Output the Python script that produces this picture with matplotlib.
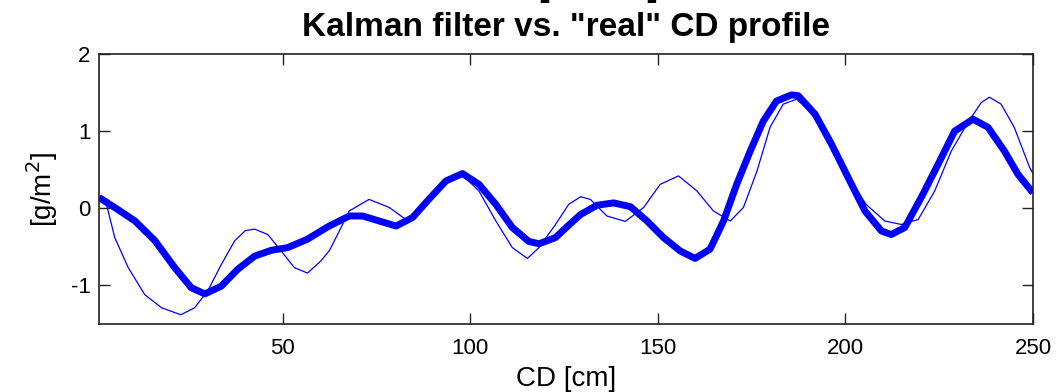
import matplotlib
matplotlib.use("Agg")
import matplotlib.pyplot as plt

from matplotlib import rcParams
rcParams['font.family'] = 'sans-serif'
rcParams['font.sans-serif'] = ['Liberation Sans', 'DejaVu Sans']
rcParams['axes.unicode_minus'] = False

# Kalman filter estimate (thick line)
kal_x = [1, 5.2, 10.6, 15.9, 21.2, 25.6, 29.2, 33.6, 38.0, 42.5, 46.9, 51.3, 56.6, 62,
         67.7, 71.3, 75.7, 80.2, 84.6, 89, 93.5, 97.9, 102.3, 106.8, 111.2, 115.6, 118.3,
         122.7, 126.2, 129.4, 133.8, 138.2, 142.7, 147.1, 151.5, 156, 159.9, 163.9, 167.5,
         171, 174.6, 178.1, 181.6, 185.6, 187.4, 191.9, 196.3, 200.7, 205.2, 209.6, 212.2,
         215.8, 220.2, 224.7, 229.1, 234, 238, 242.4, 246, 250]
kal_y = [0.14, 0.01, -0.165, -0.42, -0.77, -1.03, -1.11, -1.01, -0.79, -0.62, -0.545, -0.51,
         -0.40, -0.24, -0.10, -0.10, -0.165, -0.23, -0.12, 0.12, 0.355, 0.45, 0.31, 0.05,
         -0.25, -0.43, -0.46, -0.38, -0.22, -0.08, 0.04, 0.07, 0.02, -0.165, -0.38, -0.555,
         -0.65, -0.53, -0.165, 0.31, 0.74, 1.13, 1.39, 1.47, 1.46, 1.22, 0.83, 0.40, -0.035,
         -0.295, -0.34, -0.25, 0.14, 0.57, 1.0, 1.155, 1.05, 0.74, 0.44, 0.20]

# "real" CD profile (thin line)
real_x = [1, 3.0, 5.2, 8.8, 13.2, 17.7, 22.8, 26.5, 30, 33.6, 37.2, 40, 42.5, 46, 49.6,
          53.1, 56.6, 60.2, 62.4, 64.5, 67.7, 73, 78.4, 82.8, 87.2, 92, 97.5, 102.3, 106.8,
          111.2, 115.2, 118.3, 122.7, 126.2, 129.4, 132, 136.4, 141.3, 146.2, 150.6, 155.5,
          160.4, 164.8, 169.3, 172.8, 176.4, 179.9, 183.4, 187, 191.9, 196.3, 200.7, 205.5,
          210.5, 214.9, 219.4, 223.8, 228.2, 232.6, 236.2, 238.4, 241.5, 245, 249.1, 250]
real_y = [0.15, 0.05, -0.38, -0.77, -1.12, -1.29, -1.38, -1.29, -1.07, -0.73, -0.42, -0.29,
          -0.27, -0.34, -0.555, -0.77, -0.84, -0.68, -0.55, -0.35, -0.035, 0.115, 0.01,
          -0.145, 0.01, 0.3, 0.45, 0.225, -0.165, -0.51, -0.65, -0.51, -0.21, 0.05, 0.15,
          0.115, -0.10, -0.17, 0.01, 0.31, 0.42, 0.225, -0.035, -0.165, 0.01, 0.48, 1.05,
          1.35, 1.415, 1.2, 0.82, 0.42, 0.05, -0.165, -0.21, -0.145, 0.225, 0.74, 1.11,
          1.37, 1.44, 1.35, 1.05, 0.53, 0.45]

x_ticks = [50, 100, 150, 200, 250]
y_ticks = [-1, 0, 1, 2]

fig = plt.figure(figsize=(10.61, 3.92), dpi=100)
ax = fig.add_axes([0.0933, 0.1735, 0.8803, 0.6887])

ax.plot(real_x, real_y, color='#0000ff', linewidth=0.9)
ax.plot(kal_x, kal_y, color='#0000ff', linewidth=5, solid_capstyle='butt')

ax.set_xlim(1, 250)
ax.set_ylim(-1.5, 2)
ax.set_xticks(x_ticks)
ax.set_yticks(y_ticks)
ax.tick_params(direction='in', length=8, width=1, top=True, right=True,
               labelsize=16, pad=6, colors='#222222', labelcolor='black')
ax.tick_params(axis='x', pad=10)
for s in ax.spines.values():
    s.set_linewidth(1.2)
    s.set_color('#222222')

ax.set_xlabel('CD [cm]', fontsize=20, labelpad=5)
ax.set_ylabel('[g/m$^2$]', fontsize=20, labelpad=8)
ax.set_title('Kalman filter vs. "real" CD profile', fontsize=24,
             fontweight='bold', pad=13)
# first title line is cut off by the top edge of the figure
fig.text(0.564, 1.009, '[           ]', fontsize=23, fontweight='bold',
         ha='center', va='baseline')

fig.savefig('out.png', dpi=100)
